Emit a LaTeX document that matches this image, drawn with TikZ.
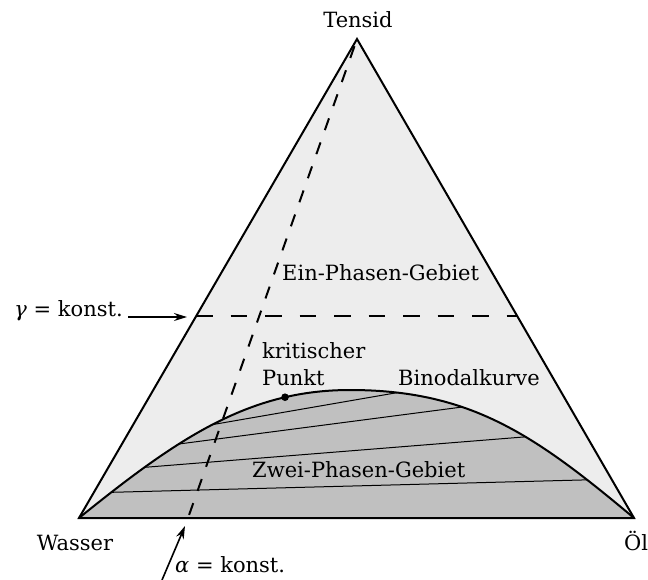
\documentclass[tikz,border=0pt]{standalone}
\usepackage{fontspec}
\setmainfont{DejaVu Serif}
\usetikzlibrary{arrows.meta,calc}
\definecolor{onephase}{HTML}{EDEDED}
\definecolor{twophase}{HTML}{C0C0C0}
\begin{document}
\begin{tikzpicture}[x=1pt,y=-1pt,
  lbl/.style={font=\fontsize{21}{25}\selectfont, inner sep=0pt},
  edge/.style={line width=2pt, line join=miter},
  tie/.style={line width=1pt},
  alphadash/.style={line width=2pt, dash pattern=on 12.5pt off 13pt},
  gammadash/.style={line width=2pt, dash pattern=on 16.5pt off 18pt},
  pointer/.style={line width=1.6pt, -{Stealth[length=13pt,width=8pt]}}]
\useasboundingbox (0,0) rectangle (648,579);
\coordinate (W) at (79,518);
\coordinate (O) at (634,518);
\coordinate (T) at (357,39);
\coordinate (P) at (350,390);
% triangle fill
\fill[onephase] (W) -- (O) -- (T) -- cycle;
% two-phase fill with binodal points
\fill[twophase] (W) .. controls (180,436.2) and (250,390) .. (P)
   coordinate[pos=0.11] (b1) coordinate[pos=0.23] (b2)
   coordinate[pos=0.36] (b3) coordinate[pos=0.49] (b4)
   coordinate[pos=0.77] (kp)
  .. controls (470,390) and (534.4,434.4) .. (O)
   coordinate[pos=0.14] (c4) coordinate[pos=0.36] (c3)
   coordinate[pos=0.60] (c2) coordinate[pos=0.835] (c1)
  -- cycle;
% tie lines
\draw[tie] (b1) -- (c1);
\draw[tie] (b2) -- (c2);
\draw[tie] (b3) -- (c3);
\draw[tie] (b4) -- (c4);
% binodal curve
\draw[line width=2pt] (W) .. controls (180,436.2) and (250,390) .. (P)
  .. controls (470,390) and (534.4,434.4) .. (O);
\fill (kp) circle (3.8pt);
% dashed lines
\coordinate (A0) at (188,518);
\coordinate (G1) at (196,316);
\coordinate (G2) at (518,316);
\draw[alphadash] ($(T)!0.015!(A0)$) -- (A0);
\draw[gammadash] (G1) -- (G2);
% triangle
\draw[edge] (W) -- (O) -- (T) -- cycle;
% labels
\node[lbl, anchor=base] (tensid) at (358,27) {Tensid};
\node[lbl, anchor=base] (wasser) at (75,550) {Wasser};
\node[lbl, anchor=base] (oel) at (636,550) {Öl};
\node[lbl, anchor=base west] (ein) at (282,280) {Ein-Phasen-Gebiet};
\node[lbl, anchor=base west] (krit) at (262,358) {kritischer};
\node[lbl, anchor=base west] (punkt) at (262,385) {Punkt};
\node[lbl, anchor=base west] (bino) at (398,385) {Binodalkurve};
\node[lbl, anchor=base west] (zwei) at (252,477) {Zwei-Phasen-Gebiet};
\node[lbl, anchor=base east] (gam) at (123,316) {\textit{γ} = konst.};
\node[lbl, anchor=base west] (alp) at (175,572) {\textit{α} = konst.};
% pointers
\coordinate (gs) at (128,317);
\coordinate (ge) at (187,317);
\draw[pointer] (gs) -- (ge);
\coordinate (as) at (162,580);
\coordinate (ae) at (185,526);
\draw[pointer] (as) -- (ae);
\end{tikzpicture}
\end{document}
